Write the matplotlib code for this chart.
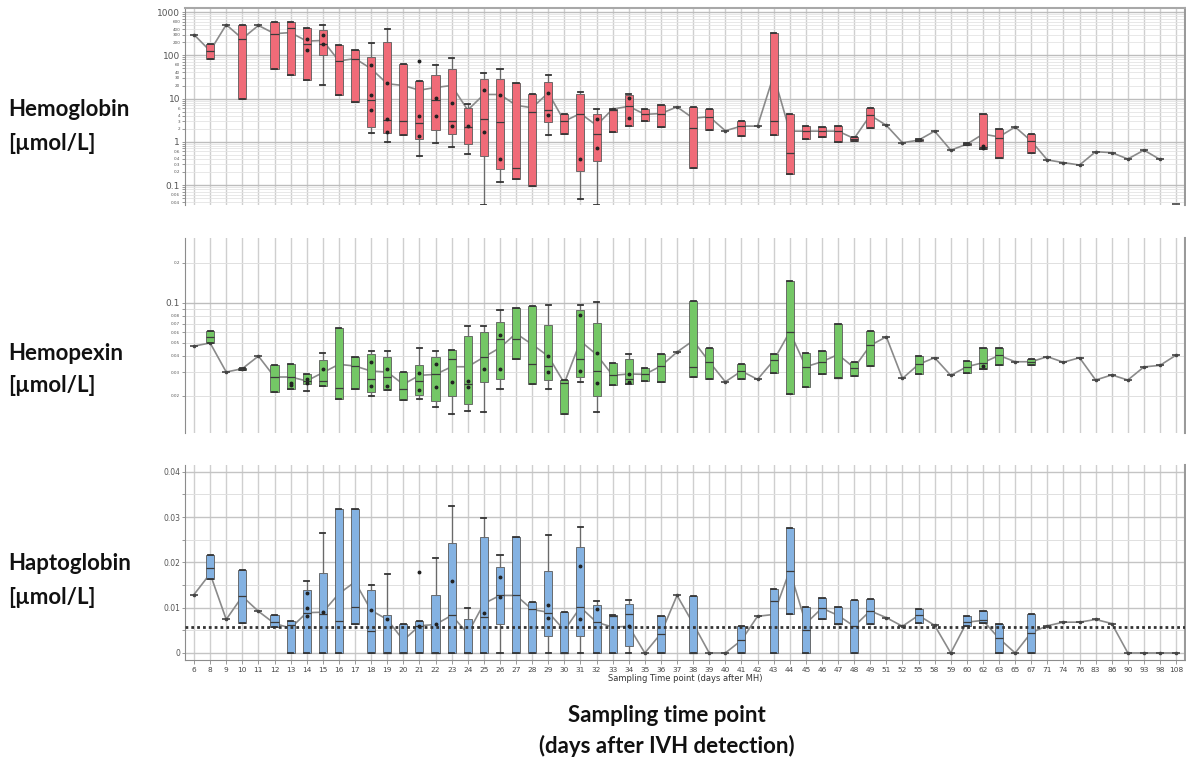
import numpy as np
import matplotlib
matplotlib.use("Agg")
import matplotlib.pyplot as plt
from matplotlib.ticker import FixedLocator, FixedFormatter

nan = np.nan

days = [6, 8, 9, 10, 11, 12, 13, 14, 15, 16, 17, 18, 19, 20, 21, 22, 23, 24, 25, 26,
        27, 28, 29, 30, 31, 32, 33, 34, 35, 36, 37, 38, 39, 40, 41, 42, 43, 44, 45, 46,
        47, 48, 49, 51, 52, 55, 58, 59, 60, 62, 63, 65, 67, 71, 74, 76, 83, 86, 90, 93,
        98, 108]

# ---------------- Hemoglobin (umol/L) ----------------
hb_mean = [300, 126, 510, 243, 490, 316, 335, 213, 220, 74, 84, 49, 22, 20, 15.6, 18, 20, 5.4,
           12.4, 12.4, 7, 6.1, 13.5, 3, 4.5, 2.4, 5.7, 6.6, 4.3, 4.5, 6.4, 3.5, 3.8, 1.8, 2.3,
           2.3, 34.5, 1.76, 1.76, 1.76, 1.76, 1.19, 4.1, 2.4, 0.95, 1.09, 1.76, 0.64, 0.88, 1.5,
           1.3, 2.2, 1.04, 0.38, 0.33, 0.29, 0.59, 0.56, 0.4, 0.64, 0.39, nan]
hb_q1 = [nan, 84, nan, 10, nan, 47, 35, 26.5, 100, 12, 8.4, 2.2, 1.56, 1.43, 1.19, 1.86, 1.5, 0.87,
         0.47, 0.24, 0.14, 0.095, 2.8, 1.5, 0.21, 0.35, 1.7, 2.3, 3.05, 2.2, nan, 0.25, 1.86, nan,
         1.37, nan, 1.43, 0.18, 1.15, 1.26, 0.97, 1.05, 2.1, nan, nan, 1.05, nan, nan, 0.85, 0.68,
         0.43, nan, 0.56, nan, nan, nan, nan, nan, nan, nan, nan, nan]
hb_med = [nan, 126, nan, 243, nan, 316, 435, 186, 186, 74, 84, 9.2, 3.16, 3.05, 2.65, 9.2, 3.05, 2.2,
          3.3, 2.8, 0.25, 4.9, 5.4, 3, 4.5, 1.48, 5.5, 6.6, 4.3, 4.5, nan, 2.03, 3.8, nan,
          2.3, nan, 3, 0.54, 1.76, 1.76, 1.76, 1.19, 4.1, nan, nan, 1.09, nan, nan, 0.88, 0.77,
          1.24, nan, 1.04, nan, nan, nan, nan, nan, nan, nan, nan, nan]
hb_q3 = [nan, 186, nan, 490, nan, 590, 590, 427, 377, 170, 135, 91, 203, 64, 25, 34.5, 47, 5.9,
         29, 29, 23, 12.4, 23.8, 4.3, 12.4, 4.35, 5.7, 12, 5.6, 7, nan, 6.4, 5.7, nan,
         3.05, nan, 334, 4.3, 2.3, 2.14, 2.34, 1.3, 5.9, nan, nan, 1.15, nan, nan, 0.92, 4.35,
         1.96, nan, 1.48, nan, nan, nan, nan, nan, nan, nan, nan, nan]
hb_lo = {15: 21, 18: 1.56, 19: 1.0, 21: 0.47, 22: 0.92, 23: 0.77, 24: 0.52, 25: 0.034,
         26: 0.12, 29: 1.43, 31: 0.047, 32: 0.034}
hb_hi = {15: 490, 18: 192, 19: 400, 22: 61, 23: 88, 24: 7.3, 25: 38, 26: 47, 29: 34.5,
         31: 14.2, 32: 5.6, 34: 12.4}
hb_dots = {14: [243, 130], 15: [289, 186], 18: [59, 11.9, 5.4], 19: [23, 3.45, 1.7],
           21: [72.6, 3.9, 1.35], 22: [10.5, 3.9], 23: [7.7, 2.3], 24: [2.3],
           25: [15.6, 1.7], 26: [11.9, 0.39], 29: [13.5, 4.1], 31: [0.4],
           32: [3.45, 0.73], 34: [10.5, 3.6], 62: [0.81, 0.7]}
hb_unlinked = {108: 0.036}

# ---------------- Hemopexin (umol/L) ----------------
hx_mean = [0.0473, 0.050, 0.0302, 0.032, 0.0398, 0.0277, 0.0277, 0.0259, 0.0299, 0.0345, 0.0335,
           0.0307, 0.0302, 0.0244, 0.0285, 0.029, 0.0331, 0.0331, 0.0391, 0.046, 0.0589, 0.0487,
           0.0398, 0.0249, 0.0516, 0.0409, 0.0285, 0.0292, 0.029, 0.0335, 0.0427, 0.052, 0.0361,
           0.0255, 0.0307, 0.0266, 0.0369, 0.0606, 0.0331, 0.0361, 0.0409, 0.0325, 0.0479,
           0.0556, 0.027, 0.0345, 0.0387, 0.0285, 0.0331, 0.0355, 0.0403, 0.0361, 0.0361,
           0.0394, 0.0358, 0.0387, 0.0263, 0.0287, 0.0263, 0.033, 0.0339, 0.0405]
hx_q1 = [nan, 0.0501, nan, 0.0315, nan, 0.0214, 0.0226, 0.0244, 0.0237, 0.0188, 0.0226, 0.0215,
         0.022, 0.0186, 0.0203, 0.0183, 0.020, 0.0173, 0.0255, 0.0266, 0.0376, 0.0244, 0.0262,
         0.0147, 0.0279, 0.020, 0.0241, 0.0247, 0.0259, 0.0254, nan, 0.0277, 0.0266, nan, 0.0266,
         nan, 0.0299, 0.0205, 0.0233, 0.029, 0.027, 0.0282, 0.0335, nan, nan, 0.0293, nan, nan,
         0.0299, 0.032, 0.034, nan, 0.034, nan, nan, nan, nan, nan, nan, nan, nan, nan]
hx_med = [nan, 0.0556, nan, 0.032, nan, 0.0277, 0.0277, 0.0259, 0.0259, 0.023, 0.0335, 0.0269,
          0.0277, 0.0226, 0.0259, 0.029, 0.0376, 0.0244, 0.0391, 0.0531, 0.0531, 0.0345, 0.0335,
          0.0249, 0.038, 0.031, 0.0285, 0.0266, 0.029, 0.0335, nan, 0.0331, 0.0361, nan, 0.0307,
          nan, 0.0369, 0.0606, 0.0331, 0.0361, 0.027, 0.0325, 0.0479, nan, nan, 0.0345, nan, nan,
          0.0331, 0.0355, 0.0403, nan, 0.0361, nan, nan, nan, nan, nan, nan, nan, nan, nan]
hx_q3 = [nan, 0.0613, nan, 0.0325, nan, 0.0339, 0.0345, 0.029, 0.0372, 0.065, 0.0394, 0.041,
         0.0394, 0.0302, 0.0339, 0.0394, 0.0439, 0.0562, 0.0606, 0.0724, 0.0917, 0.0955, 0.068,
         0.0263, 0.0891, 0.0708, 0.0355, 0.038, 0.0325, 0.0414, nan, 0.104, 0.046, nan, 0.0345,
         nan, 0.0414, 0.145, 0.0422, 0.0434, 0.0696, 0.0358, 0.0613, nan, nan, 0.0398, nan, nan,
         0.0365, 0.0455, 0.0455, nan, 0.038, nan, nan, nan, nan, nan, nan, nan, nan, nan]
hx_lo = {14: 0.0218, 18: 0.020, 21: 0.0188, 22: 0.0164, 23: 0.0145, 24: 0.0154, 25: 0.015,
         26: 0.0226, 29: 0.0226, 31: 0.0254, 32: 0.0151}
hx_hi = {15: 0.0422, 18: 0.0434, 19: 0.0434, 21: 0.046, 22: 0.0434, 24: 0.0668, 25: 0.0668,
         26: 0.0881, 29: 0.0972, 31: 0.0966, 32: 0.101, 34: 0.041}
hx_dots = {13: [0.0251, 0.0240], 14: [0.0269, 0.0249], 15: [0.032], 18: [0.0358, 0.0237],
           19: [0.032, 0.0237], 21: [0.0295, 0.0221], 22: [0.0345, 0.0234], 23: [0.0254],
           24: [0.0259, 0.0231], 25: [0.032], 26: [0.0576, 0.0316], 29: [0.0398, 0.0302],
           31: [0.0818, 0.0307], 32: [0.0417, 0.0249], 34: [0.0293, 0.0255], 62: [0.0335]}

# ---------------- Haptoglobin (umol/L) ----------------
hp_mean = [0.0129, 0.0175, 0.0074, 0.0125, 0.0092, 0.0065, 0.0055, 0.0089, 0.009, 0.0131, 0.0157,
           0.0094, 0.0074, 0.0028, 0.006, 0.0063, 0.0083, 0.0043, 0.0109, 0.0127, 0.0127, 0.0096,
           0.009, 0.005, 0.0101, 0.0068, 0.0057, 0.0059, 0.0, 0.0043, 0.0127, 0.0065, 0.0, 0.0,
           0.0028, 0.0081, 0.0085, 0.0182, 0.0065, 0.0099, 0.0083, 0.0059, 0.0093, 0.0078,
           0.0059, 0.0083, 0.0061, 0.0, 0.0068, 0.0072, 0.0032, 0.0, 0.0045, 0.006, 0.0068,
           0.0068, 0.0074, 0.0065, 0.0, 0.0, 0.0, 0.0]
hp_q1 = [nan, 0.0163, nan, 0.0067, nan, 0.0057, 0, 0, 0, 0, 0.0065, 0, 0, 0, 0, 0, 0, 0, 0,
         0.0063, 0, 0, 0.0037, 0, 0.0037, 0, 0, 0.0015, nan, 0, nan, 0, nan, nan, 0, nan, 0,
         0.0087, 0, 0.0076, 0.0063, 0, 0.0065, nan, nan, 0.0067, nan, nan, 0.006, 0.0067, 0,
         nan, 0, nan, nan, nan, nan, nan, nan, nan, nan, nan]
hp_med = [nan, 0.0188, nan, 0.0125, nan, 0.0068, 0.0061, 0.0089, 0.0085, 0.0071, 0.0101, 0.0048,
          0, 0, 0.006, 0, 0.0083, 0, 0.0079, 0.0127, 0.0127, 0.0096, 0.0088, 0, 0.0101, 0.0068,
          0.0082, 0.0087, nan, 0.0043, nan, 0, nan, nan, 0.0028, nan, 0.0114, 0.0182, 0.005,
          0.0099, 0.0063, 0.0059, 0.0093, nan, nan, 0.0083, nan, nan, 0.0068, 0.0072, 0.0032,
          nan, 0.0045, nan, nan, nan, nan, nan, nan, nan, nan, nan]
hp_q3 = [nan, 0.0217, nan, 0.0184, nan, 0.0083, 0.007, 0.014, 0.0177, 0.0318, 0.0317, 0.014,
         0.0083, 0.0065, 0.007, 0.0127, 0.0243, 0.0076, 0.0257, 0.019, 0.0256, 0.0113, 0.0181,
         0.009, 0.0234, 0.0105, 0.0083, 0.0109, nan, 0.0082, nan, 0.0125, nan, nan, 0.006, nan,
         0.0142, 0.0276, 0.0101, 0.0122, 0.0101, 0.0116, 0.012, nan, nan, 0.0096, nan, nan,
         0.0082, 0.0092, 0.0065, nan, 0.0085, nan, nan, nan, nan, nan, nan, nan, nan, nan]
hp_lo = {26: 0, 29: 0, 31: 0, 34: 0}
hp_hi = {14: 0.016, 15: 0.0265, 18: 0.0149, 19: 0.0174, 22: 0.021, 23: 0.0324, 24: 0.010,
         25: 0.0299, 26: 0.0217, 29: 0.026, 31: 0.0278, 32: 0.0115, 34: 0.0118}
hp_dots = {14: [0.0132, 0.010, 0.0081], 15: [0.009], 18: [0.0094], 19: [0.0074],
           21: [0.0179, 0.006], 22: [0.0063], 23: [0.016], 25: [0.0088], 26: [0.0168, 0.0124],
           29: [0.0105, 0.0077], 31: [0.0193, 0.0076], 32: [0.0096], 34: [0.0059]}
hp_reference = 0.0057

# ---------------- figure ----------------
W, H = 1186, 766
fig = plt.figure(figsize=(W / 100, H / 100), dpi=100)


def ax_at(left, top, right, bottom):
    return fig.add_axes([left / W, 1 - bottom / H, (right - left) / W, (bottom - top) / H])


ax1 = ax_at(185, 8, 1185, 205)
ax2 = ax_at(185, 238, 1185, 433)
ax3 = ax_at(185, 465, 1185, 660)

x = np.arange(len(days))
GRID_V = "#cfcfcf"


def draw_panel(ax, mean, q1, med, q3, lo, hi, dots, color, unlinked=None):
    mean = np.array(mean, float)
    q1 = np.array(q1, float)
    med = np.array(med, float)
    q3 = np.array(q3, float)
    stats, pos = [], []
    for i, d in enumerate(days):
        if not np.isnan(q1[i]):
            stats.append(dict(q1=q1[i], med=med[i], q3=q3[i],
                              whislo=lo.get(d, q1[i]), whishi=hi.get(d, q3[i]),
                              fliers=[], label=""))
            pos.append(i)
    ax.plot(x, mean, color="#8a8a8a", lw=1.2, zorder=2.5)
    ax.plot(x, mean, ls="none", marker="o", ms=1.6, color="#444444", zorder=2.6)
    ax.bxp(stats, positions=pos, widths=0.5, patch_artist=True, showfliers=False,
           boxprops=dict(facecolor=color, edgecolor="#5a5a5a", lw=0.6),
           medianprops=dict(color="#3a3a3a", lw=0.9),
           whiskerprops=dict(color="#6a6a6a", lw=0.9),
           capprops=dict(color="#333333", lw=1.3), capwidths=0.32,
           manage_ticks=False, zorder=3)
    single = np.isnan(q1)
    ax.plot(x[single], mean[single], ls="none", marker="_", ms=6, mew=1.2,
            color="#444444", zorder=3.5)
    if unlinked:
        for d, v in unlinked.items():
            ax.plot([days.index(d)], [v], ls="none", marker="_", ms=6, mew=1.2,
                    color="#444444", zorder=3.5, clip_on=False)
    for d, vals in dots.items():
        i = days.index(d)
        ax.plot([i] * len(vals), vals, ls="none", marker="o", ms=1.8,
                color="#222222", zorder=4)
    ax.set_xlim(-0.56, 61.55)
    ax.set_xticks(x)
    ax.grid(axis="x", color=GRID_V, lw=1.0, zorder=0)
    ax.set_axisbelow(True)
    for s in ["top", "bottom"]:
        ax.spines[s].set_visible(False)
    ax.spines["left"].set_color("#8c8c8c")
    ax.spines["right"].set_color("#9a9a9a")
    ax.spines["right"].set_linewidth(1.5)
    ax.tick_params(axis="y", which="both", direction="out", length=2, width=0.6,
                   color="#888888", labelcolor="#555555", pad=1.5)


draw_panel(ax1, hb_mean, hb_q1, hb_med, hb_q3, hb_lo, hb_hi, hb_dots, "#F06B78", hb_unlinked)
draw_panel(ax2, hx_mean, hx_q1, hx_med, hx_q3, hx_lo, hx_hi, hx_dots, "#74C766")
draw_panel(ax3, hp_mean, hp_q1, hp_med, hp_q3, hp_lo, hp_hi, hp_dots, "#84B2E2")

# --- top panel axis ---
ax1.set_yscale("log")
ax1.set_ylim(0.0345, 1240)
maj1 = [0.1, 1, 10, 100, 1000]
ax1.yaxis.set_major_locator(FixedLocator(maj1))
ax1.yaxis.set_major_formatter(FixedFormatter(["0.1", "1", "10", "100", "1000"]))
min1 = [m * 10.0 ** e for e in range(-2, 3) for m in (2, 3, 4, 5, 6, 7, 8, 9)]
min1 = [v for v in min1 if 0.0345 < v < 1240]
lab_set = {2, 3, 4, 6}
min1_lab = []
for v in min1:
    m = round(v / 10 ** np.floor(np.log10(v) + 1e-9))
    min1_lab.append(("%g" % v) if m in lab_set else "")
ax1.yaxis.set_minor_locator(FixedLocator(min1))
ax1.yaxis.set_minor_formatter(FixedFormatter(min1_lab))
ax1.tick_params(axis="y", which="major", labelsize=6.5)
ax1.tick_params(axis="y", which="minor", labelsize=3.0)
ax1.grid(axis="y", which="major", color="#bdbdbd", lw=1.0)
ax1.grid(axis="y", which="minor", color="#e4e4e4", lw=0.6)
ax1.spines["top"].set_visible(True)
ax1.spines["top"].set_color("#a8a8a8")
ax1.spines["top"].set_linewidth(1.5)

# --- middle panel axis ---
ax2.set_yscale("log")
ax2.set_ylim(0.0105, 0.308)
ax2.yaxis.set_major_locator(FixedLocator([0.1]))
ax2.yaxis.set_major_formatter(FixedFormatter(["0.1"]))
min2 = [0.02, 0.03, 0.04, 0.05, 0.06, 0.07, 0.08, 0.09, 0.2]
min2_lab = ["0.02", "0.03", "0.04", "0.05", "0.06", "0.07", "0.08", "", "0.2"]
ax2.yaxis.set_minor_locator(FixedLocator(min2))
ax2.yaxis.set_minor_formatter(FixedFormatter(min2_lab))
ax2.tick_params(axis="y", which="major", labelsize=6.5)
ax2.tick_params(axis="y", which="minor", labelsize=3.0)
ax2.grid(axis="y", which="major", color="#bdbdbd", lw=1.0)
ax2.grid(axis="y", which="minor", color="#e0e0e0", lw=0.7)

# --- bottom panel axis ---
ax3.set_ylim(-0.00155, 0.0415)
ax3.yaxis.set_major_locator(FixedLocator([0, 0.01, 0.02, 0.03, 0.04]))
ax3.yaxis.set_major_formatter(FixedFormatter(["0", "0.01", "0.02", "0.03", "0.04"]))
ax3.yaxis.set_minor_locator(FixedLocator([0.005, 0.015, 0.025, 0.035]))
ax3.tick_params(axis="y", which="major", labelsize=5.5)
ax3.grid(axis="y", which="major", color="#c4c4c4", lw=1.0)
ax3.grid(axis="y", which="minor", color="#e0e0e0", lw=0.7)
ax3.axhline(hp_reference, color="#333333", lw=2.0, ls=(0, (1, 1.1)), zorder=3.2)
ax3.spines["bottom"].set_visible(True)
ax3.spines["bottom"].set_color("#8c8c8c")

for ax in (ax1, ax2):
    ax.tick_params(axis="x", length=0, labelbottom=False)
ax3.set_xticklabels([str(d) for d in days])
ax3.tick_params(axis="x", length=3, width=0.6, color="#888888", labelsize=5.3,
                labelcolor="#444444", pad=2)
ax3.set_xlabel("Sampling Time point (days after MH)", fontsize=6, color="#333333",
               labelpad=1)

# --- side and bottom labels ---
lab_font = dict(family="Lato", weight="bold", fontsize=16, color="#111111")


def ftext(px, py, s, **kw):
    fig.text(px / W, 1 - py / H, s, va="center", **kw)


ftext(8, 110, "Hemoglobin", ha="left", **lab_font)
ftext(8, 144, "[\u00b5mol/L]", ha="left", **lab_font)
ftext(8, 353, "Hemopexin", ha="left", **lab_font)
ftext(8, 386, "[\u00b5mol/L]", ha="left", **lab_font)
ftext(8, 563, "Haptoglobin", ha="left", **lab_font)
ftext(8, 597, "[\u00b5mol/L]", ha="left", **lab_font)
ftext(667, 716, "Sampling time point", ha="center", **lab_font)
ftext(667, 746, "(days after IVH detection)", ha="center", **lab_font)

fig.savefig("out.png", dpi=100)
